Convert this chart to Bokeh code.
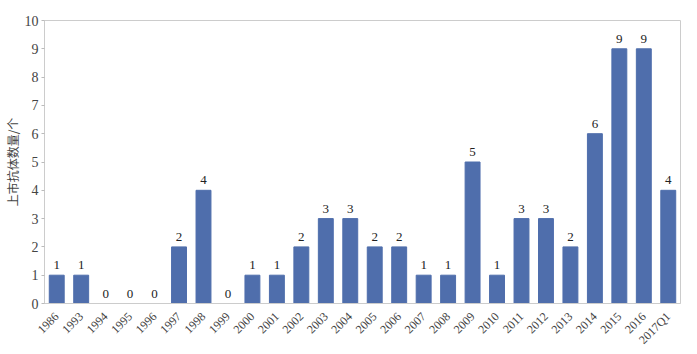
import math
from bokeh.plotting import figure
from bokeh.models import ColumnDataSource, FactorRange, Range1d, FixedTicker
from bokeh.core.properties import value
from bokeh.embed import file_html
from bokeh.resources import INLINE

years = ["1986", "1993", "1994", "1995", "1996", "1997", "1998", "1999", "2000", "2001",
         "2002", "2003", "2004", "2005", "2006", "2007", "2008", "2009", "2010", "2011",
         "2012", "2013", "2014", "2015", "2016", "2017Q1"]
counts = [1, 1, 0, 0, 0, 2, 4, 0, 1, 1, 2, 3, 3, 2, 2, 1, 1, 5, 1, 3, 3, 2, 6, 9, 9, 4]
y_label = "上市抗体数量/个"

src = ColumnDataSource(dict(x=years, y=counts, lab=[str(c) for c in counts]))

p = figure(width=697, height=354, x_range=FactorRange(*years, range_padding=0.0),
           y_range=Range1d(0, 10), output_backend="svg", toolbar_location=None,
           min_border_left=42, min_border_right=17, min_border_top=20, min_border_bottom=51)

p.vbar(x="x", top="y", width=0.61, source=src, color="#4F6EAC")
p.text(x="x", y="y", text="lab", source=src, text_align="center", text_baseline="bottom",
       y_offset=-6, text_font=value("Liberation Serif"), text_font_size="13px", text_color="#222222")

p.xgrid.visible = False
p.ygrid.visible = False
p.outline_line_color = "#CCCCCC"

p.yaxis.ticker = FixedTicker(ticks=list(range(0, 11)))
p.yaxis.axis_label = y_label
p.yaxis.axis_label_text_font = "Noto Sans CJK SC"
p.yaxis.axis_label_text_font_style = "normal"
p.yaxis.axis_label_text_font_size = "12px"
p.yaxis.axis_label_standoff = 1
p.yaxis.major_label_text_font = "Liberation Serif"
p.yaxis.major_label_text_font_size = "14px"
p.yaxis.major_label_standoff = 3
p.yaxis.axis_line_color = "#CCCCCC"
p.yaxis.major_tick_line_color = "#BBBBBB"
p.yaxis.major_tick_out = 3
p.yaxis.major_tick_in = 0
p.yaxis.minor_tick_line_color = None

p.xaxis.major_label_orientation = math.pi / 4
p.xaxis.major_label_text_font = "Liberation Serif"
p.xaxis.major_label_text_font_size = "12px"
p.xaxis.axis_line_color = "#CCCCCC"
p.xaxis.major_tick_line_color = None
p.xaxis.major_label_standoff = 5

open("out.html", "w").write(file_html(p, INLINE))
